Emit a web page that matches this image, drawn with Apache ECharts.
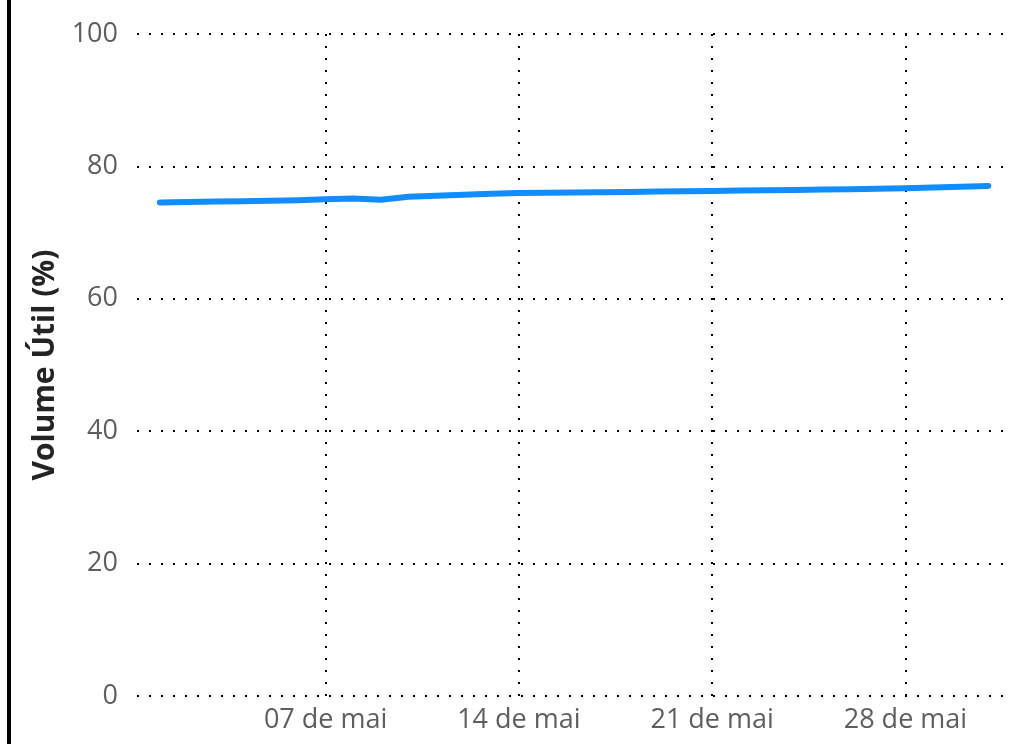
<!DOCTYPE html>
<html>
<head>
<meta charset="utf-8">
<script src="https://cdn.jsdelivr.net/npm/echarts@6/dist/echarts.min.js"></script>
<style>
html,body{margin:0;padding:0;background:#fff;}
#bar{position:absolute;left:7px;top:0;width:4px;height:744px;background:#000;}
#c{position:absolute;left:0;top:0;width:1032px;height:744px;}
</style>
</head>
<body>
<div id="c"></div>
<div id="bar"></div>
<script>
// Data (May, daily) - day of month
var days = [
 1, 2, 3, 4, 5, 6, 7, 8, 9, 10, 11, 12, 13, 14, 15, 16,
 17, 18, 19, 20, 21, 22, 23, 24, 25, 26, 27, 28, 29, 30, 31
];
var volumeUtil = [
 74.55, 74.62, 74.68, 74.74, 74.80, 74.90, 75.05,
 75.15, 74.95, 75.40, 75.55, 75.70, 75.85, 75.98,
 76.02, 76.06, 76.10, 76.15, 76.20, 76.25, 76.30,
 76.35, 76.40, 76.45, 76.50, 76.55, 76.62, 76.70,
 76.80, 76.92, 77.05
];
var tickDays = [7, 14, 21, 28];
var tickLabels = ['07 de mai', '14 de mai', '21 de mai', '28 de mai'];
var yTicks = [0, 20, 40, 60, 80, 100];
var yTitle = 'Volume Útil (%)';

var seriesData = days.map(function(d,i){ return [d, volumeUtil[i]]; });

var chart = echarts.init(document.getElementById('c'), null, {renderer:'canvas'});
var dotted = {color:'#000', width:2, type:[2,10]};
chart.setOption({
  animation:false,
  grid:{left:137, right:28, top:34, bottom:48, containLabel:false},
  xAxis:{
    type:'value',
    min: days[0] - 0.83,
    max: days[days.length-1] + 0.57,
    axisLine:{show:false},
    axisTick:{show:false, customValues:tickDays},
    axisLabel:{
      customValues:tickDays,
      color:'#605E5C', fontFamily:'Open Sans', fontSize:27, margin:11,
      formatter:function(v){ var i = tickDays.indexOf(Math.round(v)); return i>=0 ? tickLabels[i] : ''; }
    },
    splitLine:{show:true, lineStyle:dotted}
  },
  yAxis:{
    type:'value', min:yTicks[0], max:yTicks[yTicks.length-1], interval:20,
    name:yTitle, nameLocation:'middle', nameGap:76,
    nameTextStyle:{color:'#252423', fontFamily:'Open Sans', fontWeight:'bold', fontSize:30},
    axisLine:{show:false}, axisTick:{show:false},
    axisLabel:{color:'#605E5C', fontFamily:'Open Sans', fontSize:27, margin:19},
    splitLine:{show:true, lineStyle:dotted}
  },
  series:[{
    type:'line', data:seriesData, showSymbol:false, symbol:'none',
    lineStyle:{color:'#118DFF', width:6, cap:'round', join:'round'},
    itemStyle:{color:'#118DFF'}
  }]
});
</script>
</body>
</html>
